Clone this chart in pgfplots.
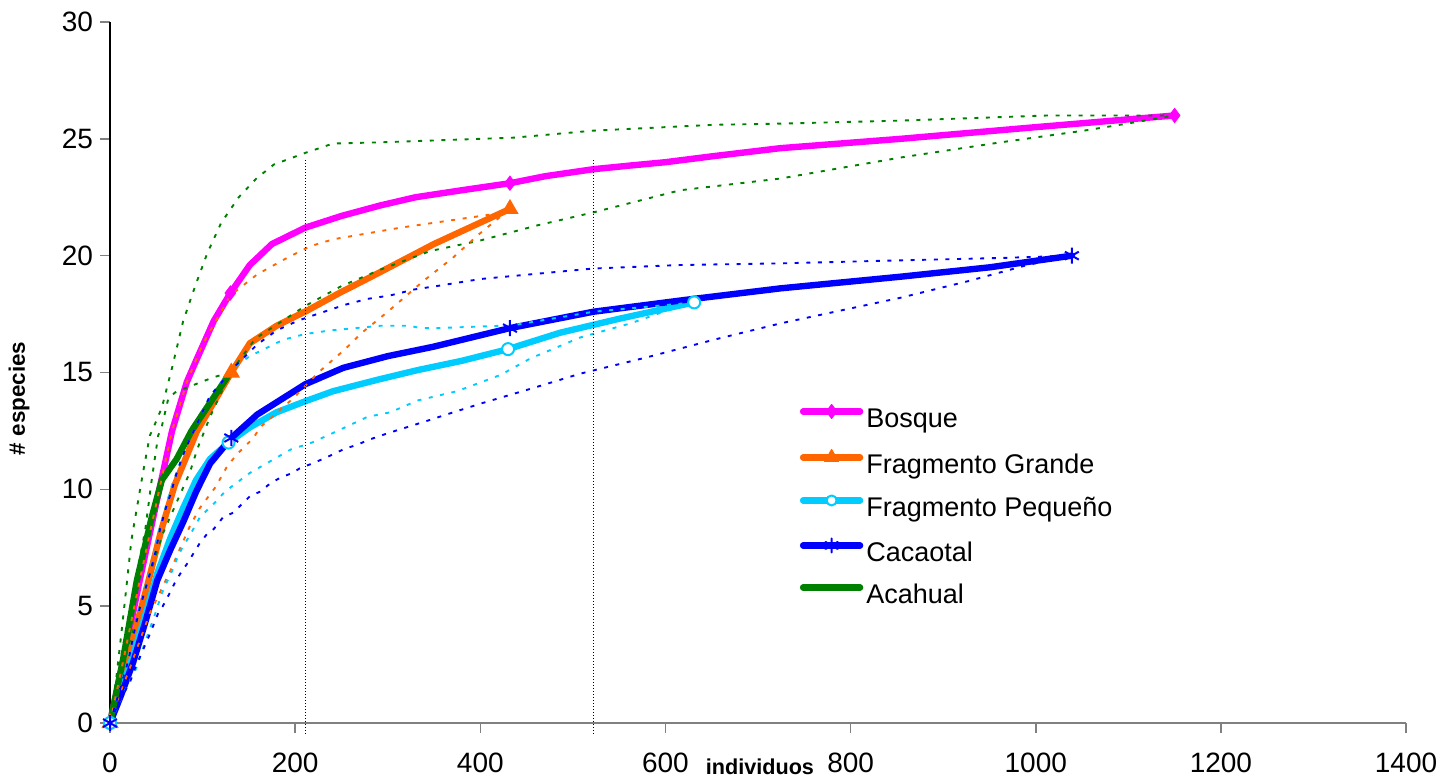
\documentclass[border=0pt]{standalone}
\usepackage{fontspec}
\setmainfont{Liberation Sans}
\usepackage{pgfplots}
\pgfplotsset{compat=1.18}
\definecolor{cMag}{RGB}{255,0,255}
\definecolor{cOra}{RGB}{255,102,0}
\definecolor{cCya}{RGB}{0,204,255}
\definecolor{cBlu}{RGB}{0,0,255}
\definecolor{cGre}{RGB}{0,128,0}
\pgfplotsset{ci/.style={line width=0.95pt, dash pattern=on 2pt off 3.8pt, forget plot},
  main/.style={line width=3.2pt, line cap=round, line join=round, mark=none}}
\begin{document}
\begin{tikzpicture}
\begin{axis}[
  scale only axis, width=648pt, height=350.5pt,
  xmin=0, xmax=1400, ymin=0, ymax=30,
  xtick={0,200,...,1400}, ytick={0,5,...,30},
  axis x line*=bottom, axis y line*=left,
  x axis line style={draw=gray, line width=0.75pt},
  y axis line style={draw=black, line width=0.75pt},
  tick align=outside, major tick length=5pt,
  tick style={gray, line width=0.75pt},
  ticklabel style={font=\fontsize{14}{14}\selectfont},
  xticklabel style={yshift=-6.5pt},
  /pgf/number format/assume math mode=true,
  /pgf/number format/1000 sep={},
  clip=false,
  xlabel={individuos},
  xlabel style={at={(axis description cs:0.5015,-0.063)}, anchor=center, font=\fontsize{10.8}{12}\selectfont\bfseries},
  ylabel={\# especies},
  ylabel style={at={(axis description cs:-0.0702,0.463)}, anchor=center, font=\fontsize{11.2}{12}\selectfont\bfseries},
  legend style={at={(axis description cs:0.532,0.455)}, anchor=north west, draw=none, fill=none, inner sep=0pt,
    row sep=8pt, column sep=1.5pt, font=\fontsize{13.5}{14}\selectfont,
    nodes={inner sep=0pt, text height=10pt, text depth=3pt, anchor=west}},
  legend cell align=left,
  legend image code/.code={\draw[mark repeat=2,mark phase=2,#1] plot coordinates {(0pt,4.5pt) (14.25pt,4.5pt) (28.5pt,4.5pt)};},
]
\path[draw=none] (axis description cs:-0.0849,-0.0856) rectangle (axis description cs:1.037,1.0314);

% main curves
\addplot[main, cMag, legend image post style={mark=diamond*, mark size=3.5pt, mark options={solid, fill=cMag, line width=0.5pt}}] coordinates {
(0,0)(15,2.8)(32,6.1)(50,9.4)(67,12.5)(83,14.6)(94,15.6)(112,17.2)(130,18.4)(151,19.6)(175,20.5)(211,21.2)(250,21.7)(292,22.15)(330,22.5)(380,22.8)(432,23.1)(470,23.4)(522,23.7)(560,23.85)(600,24.0)(650,24.25)(724,24.6)(854,25.0)(1000,25.5)(1150,26.0)};
\addlegendentry{Bosque}
\addplot[main, cOra, legend image post style={mark=triangle*, mark size=4pt, mark options={solid, fill=cOra, line width=0.5pt}}] coordinates {
(0,0)(20,2.9)(41,6.0)(55,8.2)(70,10.2)(94,12.5)(131,15)(151,16.25)(180,17.0)(213,17.65)(250,18.45)(270,18.85)(292,19.3)(350,20.5)(432,22.0)};
\addlegendentry{Fragmento Grande}
\addplot[main, cCya, legend image post style={mark=*, mark size=2.5pt, mark options={solid, fill=white, draw=cCya, line width=1pt}}] coordinates {
(0,0)(12,1.4)(25,2.9)(38,4.6)(51,6.4)(65,7.9)(79,9.2)(93,10.4)(108,11.3)(128,12.0)(151,12.65)(180,13.3)(213,13.8)(241,14.2)(290,14.7)(332,15.1)(380,15.5)(430,16.0)(486,16.7)(550,17.3)(631,18.0)};
\addlegendentry{Fragmento Pequeño}
\addplot[main, cBlu, legend image post style={mark=asterisk, mark size=3.5pt, mark options={solid, line width=1pt}}] coordinates {
(0,0)(12,1.2)(25,2.6)(38,4.3)(51,6.1)(65,7.4)(79,8.6)(93,9.9)(108,11.1)(131,12.2)(159,13.2)(211,14.5)(252,15.2)(300,15.7)(349,16.1)(432,16.9)(522,17.6)(620,18.1)(724,18.6)(854,19.1)(950,19.5)(1039,20.0)};
\addlegendentry{Cacaotal}
\addplot[main, cGre] coordinates {
(0,0)(14,2.7)(29,6.1)(45,8.8)(56,10.4)(72,11.3)(88,12.5)(108,13.7)(130,15)};
\addlegendentry{Acahual}

% markers
\addplot[only marks, forget plot, mark=diamond*, mark size=3.5pt, color=cMag, mark options={line width=0.5pt}] coordinates {(0,0)(130,18.4)(432,23.1)(1150,26)};
\addplot[only marks, forget plot, mark=triangle*, mark size=4.5pt, color=cOra, mark options={line width=0.5pt}] coordinates {(0,0)(131,15)(432,22)};
\addplot[only marks, forget plot, mark=*, mark size=3pt, draw=cCya, fill=white, mark options={line width=1pt}] coordinates {(0,0)(128,12)(430,16)(631,18)};
\addplot[only marks, forget plot, mark=asterisk, mark size=4pt, color=cBlu, mark options={line width=1pt}] coordinates {(0,0)(131,12.2)(432,16.9)(1039,20)};

% confidence intervals
\addplot[ci, cGre] coordinates {
(0,0)(7,2)(13,4.1)(19,6.3)(23,7.8)(29,9.2)(36,10.8)(43,12.3)(47,12.65)(56,13.5)(67,15.2)(79,17.2)(92,18.7)(105,20.1)(120,21.4)(139,22.5)(158,23.3)(177,23.9)(211,24.4)(241,24.8)(292,24.85)(436,25.05)(522,25.35)(652,25.6)(724,25.65)(854,25.78)(1013,26.0)(1150,26.0)};
\addplot[ci, cGre] coordinates {
(0,0)(20,3.3)(40,6.0)(57,8.1)(72,9.45)(86,10.7)(95,11.8)(108,13.1)(115,13.7)(130,15)(157,16.45)(211,17.85)(250,18.7)(292,19.4)(346,20.2)(400,20.65)(462,21.3)(522,21.85)(616,22.8)(724,23.3)(854,24.2)(962,24.85)(1052,25.35)(1106,25.7)(1150,26)};
\addplot[ci, cGre] coordinates {
(0,0)(10,2.4)(20,4.6)(30,6.6)(38,8.25)(45,10.4)(52,12.3)(56,12.7)(63,13.9)(72,14.2)(86,14.4)(112,14.8)(130,15)};
\addplot[ci, cOra] coordinates {
(0,0)(15,2.8)(32,6.1)(50,9.4)(67,12.5)(83,14.6)(100,16.2)(130,18.3)(159,19.2)(191,19.9)(216,20.4)(241,20.7)(314,21.2)(418,21.8)(432,22)};
\addplot[ci, cOra] coordinates {
(0,0)(10,1.2)(20,2.2)(43,4.7)(65,6.5)(76,7.5)(86,8.4)(97,9.2)(114,10.1)(126,10.95)(137,11.5)(155,12.2)(162,12.65)(198,13.9)(225,15.0)(254,16.0)(272,16.7)(300,17.6)(338,18.9)(370,19.9)(398,20.9)(432,22)};
\addplot[ci, cCya] coordinates {
(0,0)(20,2.8)(32,5.0)(43,6.5)(54,8.4)(67,10.2)(81,11.7)(108,14.0)(133,15.2)(151,15.7)(187,16.4)(211,16.65)(238,16.8)(292,17.0)(324,17.0)(335,16.9)(353,16.9)(422,17.0)(432,17.0)(522,17.6)(631,18.0)};
\addplot[ci, cCya] coordinates {
(0,0)(15,1.3)(29,2.4)(36,3.25)(49,4.7)(56,5.55)(61,6.0)(67,6.5)(72,7.0)(78,7.5)(85,7.95)(97,8.8)(115,9.5)(124,9.9)(151,10.7)(173,11.2)(195,11.7)(218,12.0)(243,12.45)(278,13.1)(303,13.3)(332,13.8)(375,14.2)(422,14.9)(454,15.6)(508,16.5)(562,17.1)(598,17.6)(631,18)};
\addplot[ci, cBlu] coordinates {
(0,0)(20,2.7)(25,3.7)(32,4.9)(43,6.4)(49,7.3)(54,8.3)(61,9.3)(65,9.75)(72,10.7)(81,11.7)(108,14.0)(117,14.4)(133,15.2)(141,15.5)(159,16.2)(180,16.8)(202,17.2)(216,17.4)(254,17.9)(278,18.15)(303,18.3)(328,18.55)(353,18.7)(400,19.0)(454,19.2)(522,19.45)(616,19.6)(724,19.67)(854,19.8)(962,19.9)(1039,20)};
\addplot[ci, cBlu] coordinates {
(0,0)(10,0.9)(22,1.8)(27,2.35)(43,3.8)(52,4.7)(57,5.0)(65,5.6)(70,6.0)(76,6.4)(83,6.8)(97,7.7)(105,8.1)(112,8.3)(122,8.8)(133,9.0)(151,9.7)(162,9.9)(173,10.25)(184,10.5)(197,10.7)(205,10.9)(218,11.1)(230,11.3)(241,11.5)(254,11.75)(267,11.9)(278,12.1)(300,12.4)(324,12.7)(348,13.0)(371,13.3)(403,13.7)(420,13.9)(454,14.3)(508,14.95)(580,15.65)(652,16.4)(724,17.1)(854,18.2)(926,18.9)(991,19.6)(1039,20)};

% vertical reference lines
\addplot[black, line width=0.75pt, dash pattern=on 0.75pt off 0.75pt, forget plot] coordinates {(211,24.1)(211,-0.5)};
\addplot[black, line width=0.75pt, dash pattern=on 0.75pt off 0.75pt, forget plot] coordinates {(522,24.1)(522,-0.5)};
\end{axis}
\end{tikzpicture}
\end{document}
